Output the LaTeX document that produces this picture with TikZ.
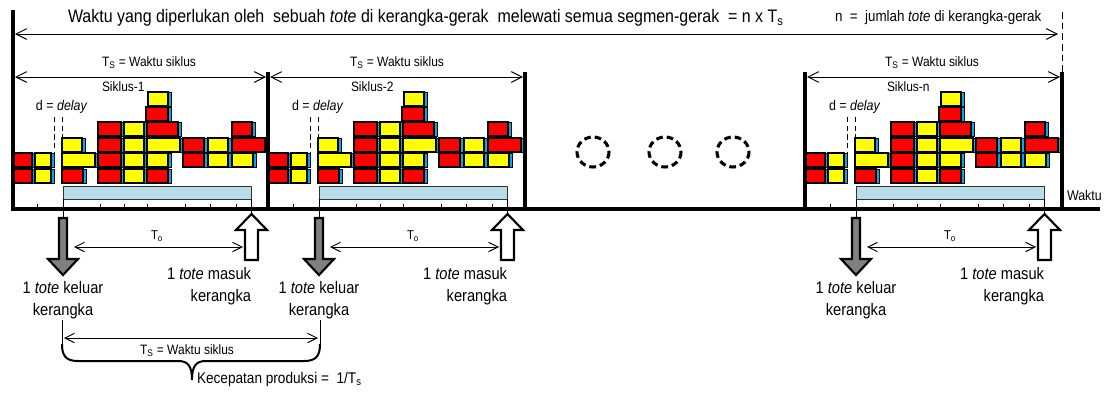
\documentclass[tikz,border=0pt]{standalone}
\usepackage{fontspec}
\setmainfont{Liberation Sans}[FakeStretch=0.88]
\usetikzlibrary{arrows.meta}
\definecolor{capblue}{RGB}{0,170,235}
\definecolor{barblue}{RGB}{183,221,232}
\definecolor{toteyellow}{RGB}{255,255,0}
\definecolor{totered}{RGB}{255,0,0}
\definecolor{arrowgray}{RGB}{128,128,128}
\tikzset{
  wall/.style={line width=2.4pt},
  thinline/.style={line width=0.75pt},
  dimarrow/.style={line width=0.75pt,{Straight Barb[length=8pt,width=8pt]}-{Straight Barb[length=8pt,width=8pt]}},
  smallarrow/.style={line width=0.75pt,{Straight Barb[length=7pt,width=7pt]}-{Straight Barb[length=7pt,width=7pt]}},
  body/.style={draw=black,line width=0.9pt},
  capstyle/.style={draw=black,line width=0.6pt,fill=capblue},
  dline/.style={line width=0.75pt,dash pattern=on 4pt off 2.5pt},
  blockarrow/.style={draw=black,line width=1.6pt},
  txt/.style={inner sep=0pt,outer sep=0pt},
  dots/.style={line width=2.3pt,dash pattern=on 5pt off 3pt}
}
\newcommand\mytote[4]{%
  \filldraw[body,fill=#4] (#1,#3) rectangle (#2,#3+14);
  \filldraw[capstyle] (#2,#3) rectangle (#2+3,#3+14);
}
\newcommand\cyclecontent[1]{%
  % totes
  \mytote{148}{168}{92}{toteyellow}
  \fill[black!65] (154,106) rectangle (162,108);
  \mytote{146}{168}{107}{totered}
  \mytote{98}{121}{122}{totered}
  \mytote{124}{144}{122}{toteyellow}
  \mytote{147}{178}{122}{totered}
  \mytote{232}{252}{122}{totered}
  \mytote{62}{82}{138}{toteyellow}
  \mytote{98}{121}{138}{totered}
  \mytote{124}{144}{138}{toteyellow}
  \mytote{147}{180}{138}{toteyellow}
  \mytote{183}{204}{138}{totered}
  \mytote{208}{228}{138}{toteyellow}
  \mytote{232}{265}{138}{totered}
  \mytote{13}{32}{153}{totered}
  \mytote{35}{51}{153}{toteyellow}
  \mytote{62}{95}{153}{toteyellow}
  \mytote{98}{121}{153}{totered}
  \mytote{124}{144}{153}{toteyellow}
  \mytote{147}{168}{153}{toteyellow}
  \mytote{183}{204}{153}{totered}
  \mytote{208}{228}{153}{toteyellow}
  \mytote{232}{253}{153}{toteyellow}
  \mytote{13}{32}{169}{totered}
  \mytote{35}{51}{169}{toteyellow}
  \mytote{62}{83}{169}{totered}
  \mytote{98}{121}{169}{totered}
  \mytote{124}{144}{169}{toteyellow}
  \mytote{147}{168}{169}{totered}
  % bar
  \filldraw[fill=barblue,draw=black!80,line width=0.6pt] (63,186) rectangle (251,199);
  % ticks
  \foreach \tx in {37,100,124,147,185,210,236}{\draw[thinline] (\tx,204) -- (\tx,209);}
  % delay lines
  \node[txt,anchor=west,font=\fontsize{10.6}{12}\selectfont] (delay#1) at (36,107) {d = \textit{delay}};
  \coordinate (dA#1) at (54,117); \coordinate (dB#1) at (54,182);
  \coordinate (dC#1) at (62.5,117); \coordinate (dD#1) at (62.5,137);
  \draw[dline] (dA#1) -- (dB#1);
  \draw[dline] (dC#1) -- (dD#1);
  \coordinate (outtop#1) at (63,218);
  \coordinate (intip#1) at (251.5,214);
  \draw[thinline] (63,199) -- (outtop#1);
  \draw[thinline] (251.5,199) -- (intip#1);
  % gray out arrow
  \filldraw[blockarrow,fill=arrowgray] (outtop#1) ++(-4,0) -- ++(8,0) -- ++(0,41) -- ++(11,0) -- (63,275) -- (48,259) -- (59,259) -- cycle;
  % white in arrow
  \filldraw[blockarrow,fill=white] (intip#1) -- (267,230) -- (258,230) -- (258,260) -- (245,260) -- (245,230) -- (236,230) -- cycle;
  % To
  \coordinate (toL#1) at (74,247); \coordinate (toR#1) at (243,247);
  \draw[smallarrow] (toL#1) -- (toR#1);
  \node[txt,font=\fontsize{9.6}{11}\selectfont] (to#1) at (157,236) {T\textsubscript{o}};
  % texts
  \node[txt,align=center,font=\fontsize{12.5}{16.5}\selectfont] (keluar#1) at (63,300) {1 \textit{tote} keluar\\kerangka};
  \node[txt,align=right,anchor=east,font=\fontsize{12.5}{16.5}\selectfont] (masuk#1) at (251,286) {1 \textit{tote} masuk\\kerangka};
}
\begin{document}
\begin{tikzpicture}[x=0.75pt,y=-0.75pt]
\useasboundingbox (0,0) rectangle (1107,396);
\fill[white] (0,0) rectangle (1107,396);

% cycles
\begin{scope}\cyclecontent{a}\end{scope}
\begin{scope}[shift={(256,0)}]\cyclecontent{b}\end{scope}
\begin{scope}[shift={(793,0)}]\cyclecontent{c}\end{scope}

% walls and axis
\draw[wall] (13,10) -- (13,209);
\draw[wall] (268,72) -- (268,209);
\draw[wall] (525,72) -- (525,209);
\draw[wall] (805,72) -- (805,209);
\draw[wall] (1062,72) -- (1062,209);
\draw[line width=0.75pt,dash pattern=on 5pt off 3pt] (1062,12) -- (1062,72);
\draw[wall] (11,209) -- (1100,209);
\node[txt,anchor=west,font=\fontsize{10.6}{12}\selectfont] (waktu) at (1067,195) {Waktu};

% top title
\node[txt,anchor=west,font=\fontsize{13.6}{15}\selectfont] (title) at (68,18) {Waktu yang diperlukan oleh\ \ sebuah \textit{tote} di kerangka-gerak\ \ melewati semua segmen-gerak\ \ = n x T\textsubscript{s}};
\node[txt,anchor=west,font=\fontsize{11.4}{13}\selectfont] (njml) at (835,18) {n\ \ =\ \ jumlah \textit{tote} di kerangka-gerak};
\coordinate (tL) at (15,34); \coordinate (tR) at (1058,34);
\draw[dimarrow] (tL) -- (tR);

% cycle time arrows
\coordinate (c1L) at (15,77); \coordinate (c1R) at (266,77);
\coordinate (c2L) at (270,77); \coordinate (c2R) at (523,77);
\coordinate (c3L) at (807,77); \coordinate (c3R) at (1060,77);
\draw[dimarrow] (c1L) -- (c1R);
\draw[dimarrow] (c2L) -- (c2R);
\draw[dimarrow] (c3L) -- (c3R);
\node[txt,anchor=west,font=\fontsize{10.2}{12}\selectfont] (ts1) at (102,63) {T\textsubscript{S} = Waktu siklus};
\node[txt,anchor=west,font=\fontsize{10.2}{12}\selectfont] (ts2) at (350,63) {T\textsubscript{S} = Waktu siklus};
\node[txt,anchor=west,font=\fontsize{10.2}{12}\selectfont] (ts3) at (885,63) {T\textsubscript{S} = Waktu siklus};
\node[txt,anchor=west,font=\fontsize{10.2}{12}\selectfont] (sk1) at (102,87) {Siklus-1};
\node[txt,anchor=west,font=\fontsize{10.2}{12}\selectfont] (sk2) at (351,87) {Siklus-2};
\node[txt,anchor=west,font=\fontsize{10.2}{12}\selectfont] (sk3) at (887,87) {Siklus-n};

% dashed circles
\draw[dots] (593,152) ellipse [x radius=16, y radius=15];
\draw[dots] (665,152) ellipse [x radius=16, y radius=15];
\draw[dots] (733,152) ellipse [x radius=16, y radius=15];

% bottom brace
\coordinate (bL) at (62,320); \coordinate (bR) at (320,320);
\draw[thinline] (bL) -- (62,346);
\draw[thinline] (bR) -- (320,346);
\coordinate (bAL) at (64,338); \coordinate (bAR) at (318,338);
\draw[smallarrow] (bAL) -- (bAR);
\node[txt,font=\fontsize{10.2}{12}\selectfont] (tsb) at (187,351) {T\textsubscript{S} = Waktu siklus};
\draw[line width=1.5pt] (62,344) .. controls (62,356) and (66,361) .. (78,361) -- (178,361) .. controls (188,361) and (192,366) .. (192,380) .. controls (192,366) and (196,361) .. (206,361) -- (304,361) .. controls (316,361) and (320,356) .. (320,344);
\node[txt,anchor=west,font=\fontsize{11.6}{13}\selectfont] (kec) at (197,379) {Kecepatan produksi =\ \ 1/T\textsubscript{s}};
\end{tikzpicture}
\end{document}
